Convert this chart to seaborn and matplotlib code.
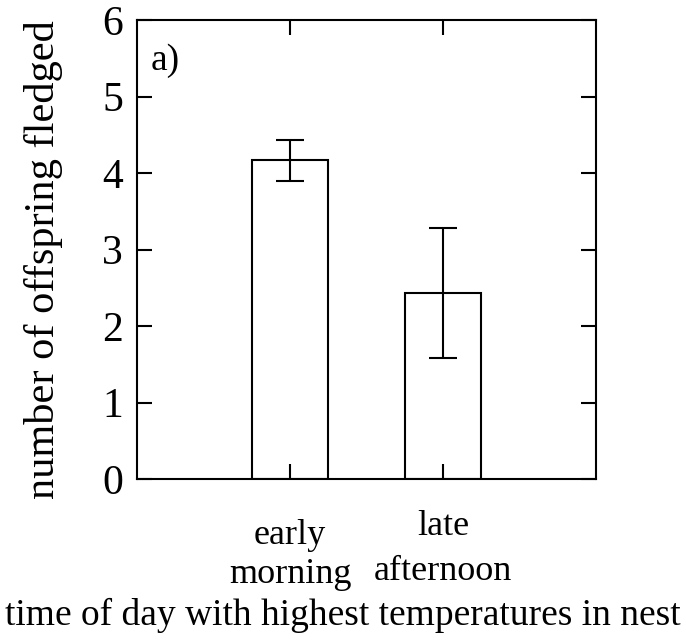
import matplotlib
matplotlib.use("Agg")
import matplotlib.pyplot as plt
import seaborn as sns
import pandas as pd

# Mean number of offspring fledged, with error-bar limits
categories = ["early\nmorning", "late\nafternoon"]
means = [4.17, 2.43]
err_low = [3.90, 1.58]
err_high = [4.43, 3.28]
y_ticks = [0, 1, 2, 3, 4, 5, 6]

sns.set_style("ticks")
plt.rcParams["font.family"] = ["Liberation Serif", "DejaVu Serif"]
for key in ["text.color", "axes.labelcolor", "xtick.color", "ytick.color",
            "xtick.labelcolor", "ytick.labelcolor"]:
    plt.rcParams[key] = "black"

df = pd.DataFrame({"period": categories, "fledged": means})

fig = plt.figure(figsize=(6.86, 6.44), dpi=100)
ax = fig.add_axes([137 / 686, 1 - 479 / 644, (596 - 137) / 686, (479 - 20) / 644])

sns.barplot(data=df, x="period", y="fledged", ax=ax, width=0.5,
            color="white", edgecolor="black", linewidth=1.5, errorbar=None)

xpos = list(range(len(categories)))
yerr = [[m - lo for m, lo in zip(means, err_low)],
        [hi - m for m, hi in zip(means, err_high)]]
ax.errorbar(xpos, means, yerr=yerr, fmt="none", ecolor="black",
            elinewidth=1.5, capsize=10, capthick=1.5)

ax.set_xlim(-1, 2)
ax.set_ylim(0, 6)
ax.set_yticks(y_ticks)
ax.set_yticklabels([str(t) for t in y_ticks])
ax.set_axisbelow(False)

for side in ["left", "right", "top", "bottom"]:
    ax.spines[side].set_visible(True)
    ax.spines[side].set_linewidth(1.5)
    ax.spines[side].set_color("black")
    ax.spines[side].set_zorder(5)

ax.tick_params(axis="both", which="major", direction="in", length=11,
               width=1.5, color="black", top=True, right=True)
ax.tick_params(axis="y", labelsize=30, pad=10)
ax.tick_params(axis="x", labelsize=26)

xlabels = ax.get_xticklabels()
xlabels[0].set_linespacing(1.22)
xlabels[1].set_linespacing(1.5)
xticks = ax.xaxis.get_major_ticks()
xticks[0].set_pad(29)
xticks[1].set_pad(22)

ax.set_xlabel("time of day with highest temperatures in nest", fontsize=27,
              labelpad=5)
ax.xaxis.label.set_x((343 - 137) / 459)
ax.set_ylabel("number of offspring fledged", fontsize=30.5, labelpad=28)
ax.yaxis.label.set_y(0.478)

ax.text(0.03, 0.95, "a)", transform=ax.transAxes, fontsize=27,
        ha="left", va="top")

fig.savefig("out.png", dpi=100)
